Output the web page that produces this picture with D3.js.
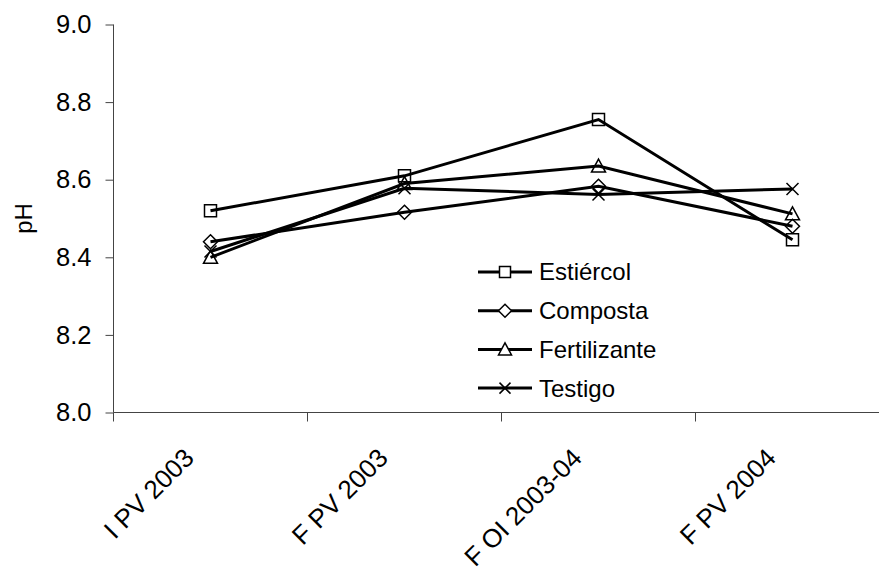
<!DOCTYPE html>
<html>
<head>
<meta charset="utf-8">
<script src="https://cdn.jsdelivr.net/npm/d3@7"></script>
<style>
  html, body { margin: 0; padding: 0; background: #fff; }
  svg { display: block; font-family: "Liberation Sans", Arial, sans-serif; }
</style>
</head>
<body>
<svg id="chart" width="879" height="571"></svg>
<script>
// Sampling dates
const categories = ["I PV 2003", "F PV 2003", "F OI 2003-04", "F PV 2004"];

// Soil pH per treatment
const estiercol    = [8.52, 8.61, 8.755, 8.445];
const composta     = [8.44, 8.516, 8.583, 8.48];
const fertilizante = [8.40, 8.59, 8.635, 8.512];
const testigo      = [8.415, 8.578, 8.562, 8.576];

const seriesNames = ["Estiércol", "Composta", "Fertilizante", "Testigo"];
const seriesValues = [estiercol, composta, fertilizante, testigo];
const markerTypes = ["square", "diamond", "triangle", "cross"];

const yTicks = [8.0, 8.2, 8.4, 8.6, 8.8, 9.0];

const svg = d3.select("#chart");

const x = d3.scaleBand().domain(categories).range([113.5, 889.5]).padding(0);
const y = d3.scaleLinear().domain([8, 9]).range([412.5, 24.5]);

const axisColor = "#444";

// Y axis
const yAxis = svg.append("g")
  .attr("transform", `translate(${x.range()[0]},0)`)
  .call(d3.axisLeft(y).tickValues(yTicks).tickFormat(d3.format(".1f")).tickSize(8).tickPadding(14));
yAxis.select(".domain").attr("stroke", axisColor).attr("d", `M0,${y(9)}V${y(8)}`);
yAxis.selectAll(".tick line").attr("stroke", axisColor);
yAxis.selectAll(".tick text").attr("font-size", 25.5).attr("fill", "#000")
  .attr("font-family", "'Liberation Sans', Arial, sans-serif");

// X axis: ticks sit on the category boundaries
const xAxis = svg.append("g").attr("transform", `translate(0,${y(8)})`);
xAxis.append("line")
  .attr("x1", x.range()[0]).attr("x2", x.range()[1])
  .attr("y1", 0).attr("y2", 0)
  .attr("stroke", axisColor);
const boundaries = categories.map(c => x(c)).concat([x.range()[1]]);
xAxis.selectAll("line.tick").data(boundaries).join("line")
  .attr("class", "tick")
  .attr("x1", d => d).attr("x2", d => d)
  .attr("y1", 0).attr("y2", 9)
  .attr("stroke", axisColor);
xAxis.selectAll("text").data(categories).join("text")
  .attr("transform", d => `translate(${x(d) + x.bandwidth() / 2 - 15},${47}) rotate(-45)`)
  .attr("text-anchor", "end")
  .attr("font-size", 26)
  .attr("fill", "#000")
  .text(d => d);

// Y axis title
svg.append("text")
  .attr("transform", `translate(32,${(y(8) + y(9)) / 2}) rotate(-90)`)
  .attr("text-anchor", "middle")
  .attr("font-size", 24)
  .attr("fill", "#000")
  .text("pH");

// Marker shapes
function markerPath(type, s) {
  const h = s / 2;
  switch (type) {
    case "square": return `M${-h},${-h}H${h}V${h}H${-h}Z`;
    case "diamond": return `M0,${-h - 1}L${h + 1},0L0,${h + 1}L${-h - 1},0Z`;
    case "triangle": return `M0,${-h - 1}L${h + 1},${h}L${-h - 1},${h}Z`;
    case "cross": return `M${-h},${-h}L${h},${h}M${h},${-h}L${-h},${h}`;
  }
}

const cx = d => x(d) + x.bandwidth() / 2;
const line = d3.line().x((v, i) => cx(categories[i])).y(v => y(v));

const plot = svg.append("g");
seriesValues.forEach((vals, si) => {
  const g = plot.append("g");
  g.append("path")
    .attr("d", line(vals))
    .attr("fill", "none")
    .attr("stroke", "#000")
    .attr("stroke-width", 3)
    .attr("stroke-linejoin", "miter");
  g.selectAll("path.m").data(vals).join("path")
    .attr("class", "m")
    .attr("transform", (v, i) => `translate(${cx(categories[i])},${y(v)})`)
    .attr("d", markerPath(markerTypes[si], 12))
    .attr("fill", "none")
    .attr("stroke", "#000")
    .attr("stroke-width", 1.5);
});

// Legend
const legend = svg.append("g").attr("transform", "translate(478,272)");
seriesNames.forEach((name, i) => {
  const row = legend.append("g").attr("transform", `translate(0,${i * 38.7})`);
  row.append("line").attr("x1", 0).attr("x2", 54).attr("y1", 0).attr("y2", 0)
    .attr("stroke", "#000").attr("stroke-width", 3);
  row.append("path")
    .attr("transform", "translate(27,0)")
    .attr("d", markerPath(markerTypes[i], 11))
    .attr("fill", markerTypes[i] === "cross" ? "none" : "#fff")
    .attr("stroke", "#000").attr("stroke-width", 1.5);
  row.append("text")
    .attr("x", 61).attr("y", 0).attr("dy", "0.35em")
    .attr("font-size", 24).attr("fill", "#000")
    .text(name);
});
</script>
</body>
</html>
